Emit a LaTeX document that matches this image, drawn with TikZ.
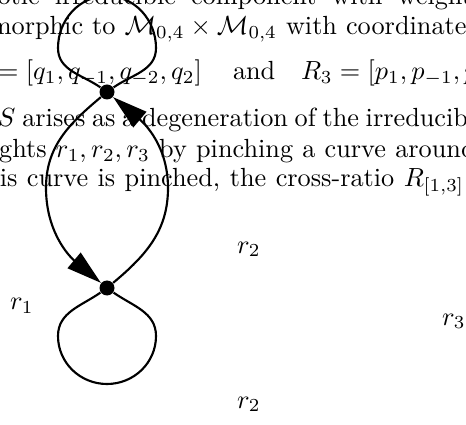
\RequirePackage{fix-cm}
\documentclass[tikz,border=0pt]{standalone}
\usepackage{amsmath}
\usetikzlibrary{arrows.meta}
\newcommand{\fsz}{\fontsize{10.5}{12.6}\selectfont}
\begin{document}
\begin{tikzpicture}[x=0.4pt,y=0.4pt,
  every node/.style={font=\fsz},
  txt/.style={anchor=base west,inner sep=0pt,outer sep=0pt},
  txte/.style={anchor=base east,inner sep=0pt,outer sep=0pt},
  lbl/.style={anchor=base west,inner sep=0pt,outer sep=0pt},
  dot/.style={circle,fill=black,inner sep=0pt,minimum size=6pt},
  edge/.style={line width=0.85pt},
  arr/.style={edge,-{Triangle[length=14pt,width=8pt]}}]
\useasboundingbox (0,0) rectangle (466,-425);
\clip (0,0) rectangle (466,-425);
% text lines
\node[txt] (t0) at (-28,-5) {\makebox[200pt][s]{exotic irreducible component with weight}s};
\node[txt] (t1) at (-41,-35) {\makebox[203pt][s]{isomorphic to $\mathcal{M}_{0,4}\times\mathcal{M}_{0,4}$ with coordinate}s};
\node[txte] (t2a) at (202,-80) {$R_2=[q_1,q_{-1},q_{-2},q_2]$};
\node[txt] (t2b) at (233,-80) {and};
\node[txt] (t2c) at (301,-80) {$R_3=[p_1,p_{-1},p_{-2},p_2]$};
\node[txt] (t3) at (-2,-127) {\makebox[188pt][s]{$S$ arises as a degeneration of the irreducib}le};
\node[txt] (t4) at (-38,-158) {\makebox[199.6pt][s]{weights $r_1,r_2,r_3$ by pinching a curve aroun}d};
\node[txt] (t5) at (-25,-187) {\makebox[195.6pt][s]{this curve is pinched, the cross-ratio $R_{[1,3]}$}};
% labels
\node[lbl] (r2a) at (237,-253) {$r_2$};
\node[lbl] (r1) at (10,-310) {$r_1$};
\node[lbl] (r3) at (442,-325) {$r_3$};
\node[lbl] (r2b) at (237,-408) {$r_2$};
% vertices
\node[dot] (U) at (107,-92) {};
\node[dot] (L) at (107,-288) {};
\coordinate (ul) at (58,-48);
\coordinate (ut) at (107,4);
\coordinate (ur) at (156,-48);
\coordinate (ll) at (58,-336);
\coordinate (lb) at (107,-384);
\coordinate (lr) at (156,-336);
\coordinate (ml) at (46,-188);
\coordinate (mr) at (168,-188);
% loops
\draw[edge] (U) to[out=145,in=-90] (ul) to[out=90,in=180] (ut) to[out=0,in=90] (ur) to[out=-90,in=35] (U);
\draw[edge] (L) to[out=-145,in=90] (ll) to[out=-90,in=180] (lb) to[out=0,in=-90] (lr) to[out=90,in=-35] (L);
% arrows
\draw[arr] (U) to[out=-140,in=90] (ml) to[out=-90,in=140] (L);
\draw[arr] (L) to[out=40,in=-90] (mr) to[out=90,in=-40] (U);
\end{tikzpicture}
\end{document}
